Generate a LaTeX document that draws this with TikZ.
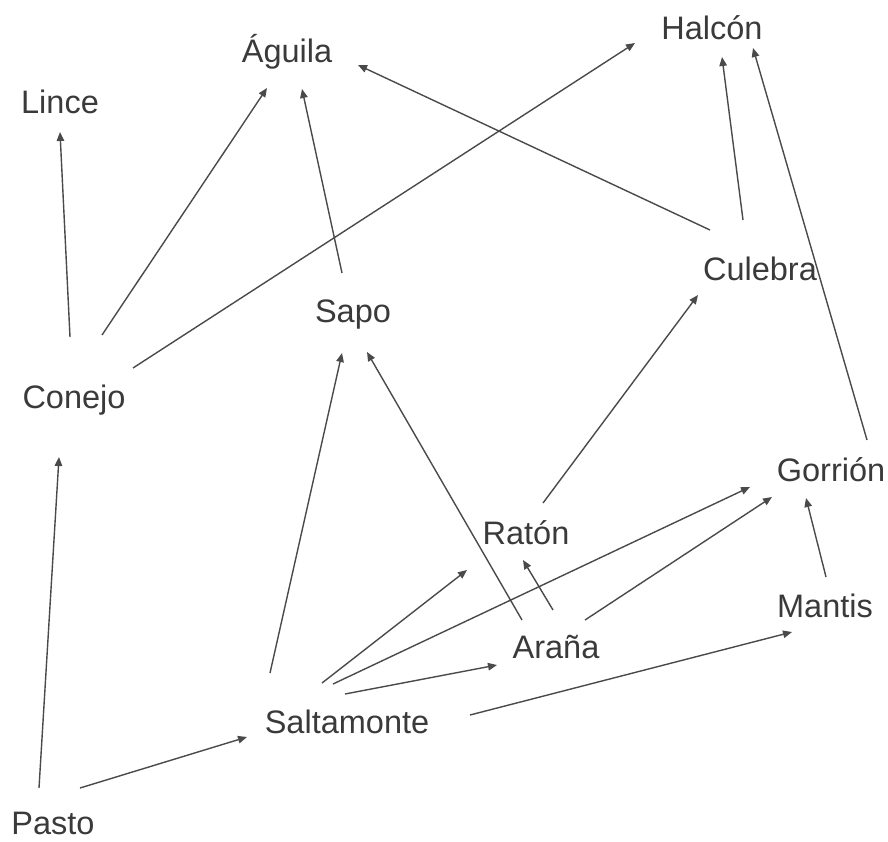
\documentclass[tikz,border=0pt]{standalone}
\usepackage{fontspec}
\setmainfont{Liberation Sans}
\usetikzlibrary{arrows.meta}
\definecolor{ink}{HTML}{3A3A3A}
\definecolor{wire}{HTML}{4A4A4A}
\tikzset{
  sp/.style={inner sep=0pt, text height=23.4pt, text depth=0pt, text=ink,
    font=\fontsize{32.5}{39}\selectfont},
  eats/.style={draw=wire, line width=1.4pt, -{Triangle[length=9pt,width=7.5pt]}}
}
\newcommand{\link}[4]{ \draw[eats] ([shift={(#2)}]#1.center) -- ([shift={(#4)}]#3.center);}

\begin{document}
\begin{tikzpicture}[x=1pt,y=-1pt]
        \useasboundingbox (0,0) rectangle (888,841);
        % species
        \node[sp] (halcon) at (712,28) {Halcón};
        \node[sp] (aguila) at (287,51) {Águila};
        \node[sp] (lince) at (60,102) {Lince};
        \node[sp] (conejo) at (74,397) {Conejo};
        \node[sp] (sapo) at (353,311) {Sapo};
        \node[sp] (culebra) at (760,269) {Culebra};
        \node[sp] (gorrion) at (831,470) {Gorrión};
        \node[sp] (raton) at (526,533) {Ratón};
        \node[sp] (mantis) at (825,606) {Mantis};
        \node[sp] (arana) at (556,647) {Araña};
        \node[sp] (salta) at (347,722) {Saltamonte};
        \node[sp] (pasto) at (53,823) {Pasto};
        % from pasto
        \link{pasto}{-14,-35}{conejo}{-15,60}
        \link{pasto}{27,-35}{salta}{-100,15}
        % from saltamonte
        \link{salta}{-77,-49}{sapo}{-11,42}
        \link{salta}{-25,-39}{raton}{-59,37}
        \link{salta}{-14,-38}{gorrion}{-81,17}
        \link{salta}{-2,-28}{arana}{-59,18}
        \link{salta}{123,-7}{mantis}{-33,26}
        % from arana, raton, mantis
        \link{arana}{-34,-27}{sapo}{14,41}
        \link{arana}{-3,-37}{raton}{-3,27}
        \link{arana}{29,-27}{gorrion}{-59,27}
        \link{raton}{17,-30}{culebra}{-62,26}
        \link{mantis}{1,-29}{gorrion}{-25,28}
        % from conejo
        \link{conejo}{-4,-60}{lince}{0,30}
        \link{conejo}{28,-62}{aguila}{-20,37}
        \link{conejo}{59,-29}{halcon}{-77,15}
        % from sapo, culebra, gorrion
        \link{sapo}{-11,-38}{aguila}{15,38}
        \link{culebra}{-50,-39}{aguila}{71,14}
        \link{culebra}{-17,-49}{halcon}{10,29}
        \link{gorrion}{36,-30}{halcon}{41,20}
    \end{tikzpicture}
\end{document}
